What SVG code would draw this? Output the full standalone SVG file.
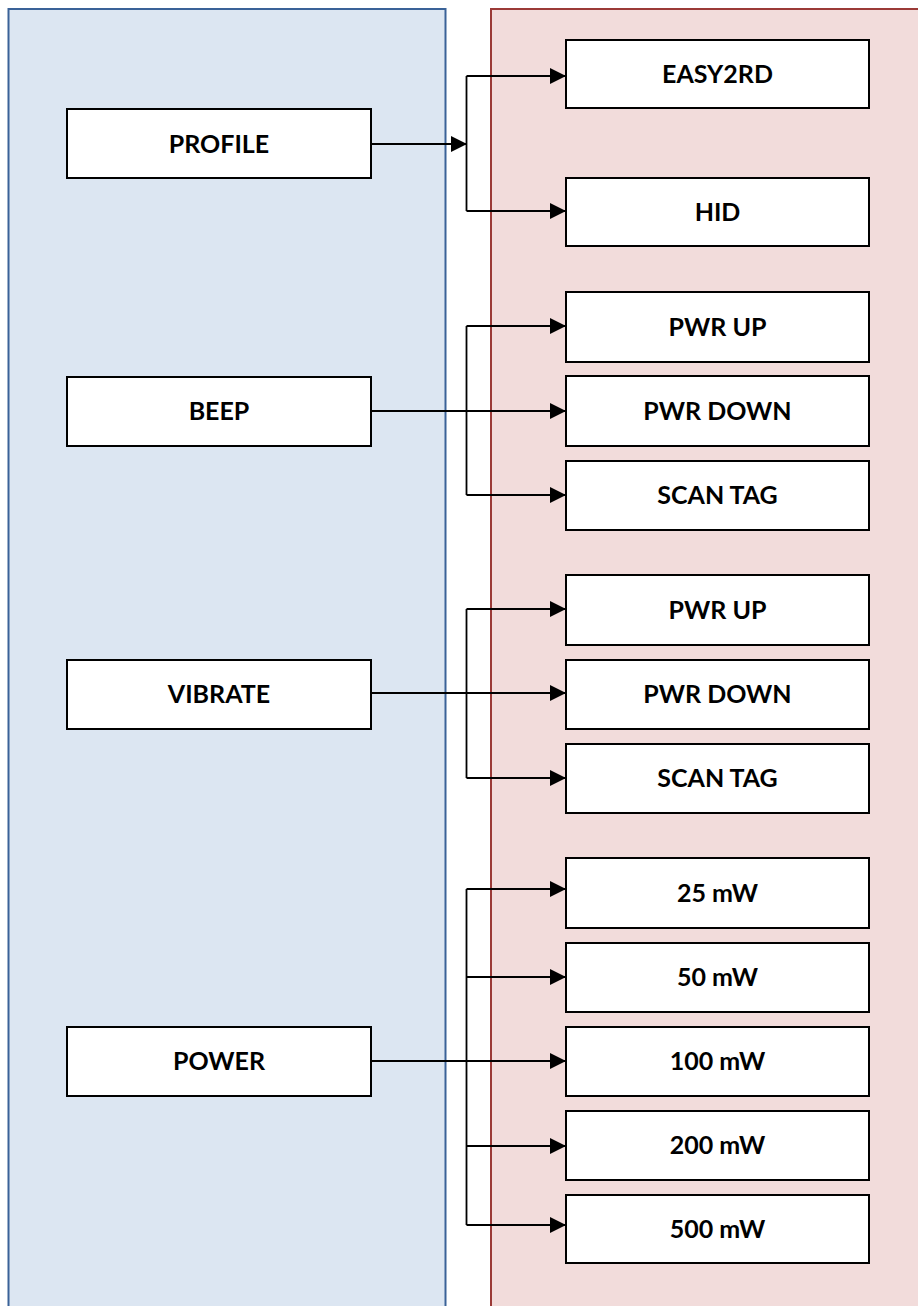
<svg xmlns="http://www.w3.org/2000/svg" width="918" height="1306" viewBox="0 0 918 1306">
<style>
.box{fill:#ffffff;stroke:#000000;stroke-width:2}
.lbl{font-family:Lato,"Open Sans","Liberation Sans",sans-serif;font-weight:bold;font-size:25px;fill:#000000;text-anchor:middle}
.ln{fill:none;stroke:#000000;stroke-width:1.8}
</style>
<defs>
<marker id="ah" markerUnits="userSpaceOnUse" markerWidth="16" markerHeight="16" refX="16" refY="8" orient="auto">
<path d="M0,0 L16,8 L0,16 z" fill="#000000"/>
</marker>
</defs>
<g id="panels">
<rect x="8.5" y="9" width="437" height="1320" fill="#dce6f2" stroke="#3a6298" stroke-width="2"/>
<rect x="491" y="9" width="440" height="1320" fill="#f2dcdb" stroke="#9b3a37" stroke-width="2"/>
</g>
<g id="connectors">
<path class="ln" d="M371,144 H467" marker-end="url(#ah)"/>
<path class="ln" d="M466.5,76 V211"/>
<path class="ln" d="M466.5,76 H566" marker-end="url(#ah)"/>
<path class="ln" d="M466.5,211 H566" marker-end="url(#ah)"/>

<path class="ln" d="M371,411 H566" marker-end="url(#ah)"/>
<path class="ln" d="M466.5,326 V495"/>
<path class="ln" d="M466.5,326 H566" marker-end="url(#ah)"/>
<path class="ln" d="M466.5,495 H566" marker-end="url(#ah)"/>

<path class="ln" d="M371,693 H566" marker-end="url(#ah)"/>
<path class="ln" d="M466.5,609 V778"/>
<path class="ln" d="M466.5,609 H566" marker-end="url(#ah)"/>
<path class="ln" d="M466.5,778 H566" marker-end="url(#ah)"/>

<path class="ln" d="M371,1061 H566" marker-end="url(#ah)"/>
<path class="ln" d="M466.5,889 V1225"/>
<path class="ln" d="M466.5,889 H566" marker-end="url(#ah)"/>
<path class="ln" d="M466.5,977 H566" marker-end="url(#ah)"/>
<path class="ln" d="M466.5,1146 H566" marker-end="url(#ah)"/>
<path class="ln" d="M466.5,1225 H566" marker-end="url(#ah)"/>
</g>
<g id="profile"><rect class="box" x="67" y="109" width="304" height="69"/><text class="lbl" x="219" y="153">PROFILE</text></g>
<g id="beep"><rect class="box" x="67" y="377" width="304" height="69"/><text class="lbl" x="219" y="420">BEEP</text></g>
<g id="vibrate"><rect class="box" x="67" y="660" width="304" height="69"/><text class="lbl" x="219" y="703">VIBRATE</text></g>
<g id="power"><rect class="box" x="67" y="1027" width="304" height="69"/><text class="lbl" x="219" y="1070">POWER</text></g>

<g id="easy2rd"><rect class="box" x="566" y="40" width="303" height="68"/><text class="lbl" x="717.5" y="83">EASY2RD</text></g>
<g id="hid"><rect class="box" x="566" y="178" width="303" height="68"/><text class="lbl" x="717.5" y="221">HID</text></g>

<g id="beep-pwrup"><rect class="box" x="566" y="292" width="303" height="70"/><text class="lbl" x="717.5" y="336">PWR UP</text></g>
<g id="beep-pwrdown"><rect class="box" x="566" y="376" width="303" height="70"/><text class="lbl" x="717.5" y="420">PWR DOWN</text></g>
<g id="beep-scantag"><rect class="box" x="566" y="461" width="303" height="69"/><text class="lbl" x="717.5" y="504">SCAN TAG</text></g>

<g id="vib-pwrup"><rect class="box" x="566" y="575" width="303" height="70"/><text class="lbl" x="717.5" y="619">PWR UP</text></g>
<g id="vib-pwrdown"><rect class="box" x="566" y="660" width="303" height="69"/><text class="lbl" x="717.5" y="703">PWR DOWN</text></g>
<g id="vib-scantag"><rect class="box" x="566" y="744" width="303" height="69"/><text class="lbl" x="717.5" y="787">SCAN TAG</text></g>

<g id="p25"><rect class="box" x="566" y="858" width="303" height="70"/><text class="lbl" x="717.5" y="902">25 mW</text></g>
<g id="p50"><rect class="box" x="566" y="943" width="303" height="69"/><text class="lbl" x="717.5" y="986">50 mW</text></g>
<g id="p100"><rect class="box" x="566" y="1027" width="303" height="69"/><text class="lbl" x="717.5" y="1070">100 mW</text></g>
<g id="p200"><rect class="box" x="566" y="1111" width="303" height="69"/><text class="lbl" x="717.5" y="1154">200 mW</text></g>
<g id="p500"><rect class="box" x="566" y="1195" width="303" height="68"/><text class="lbl" x="717.5" y="1238">500 mW</text></g>
</svg>
